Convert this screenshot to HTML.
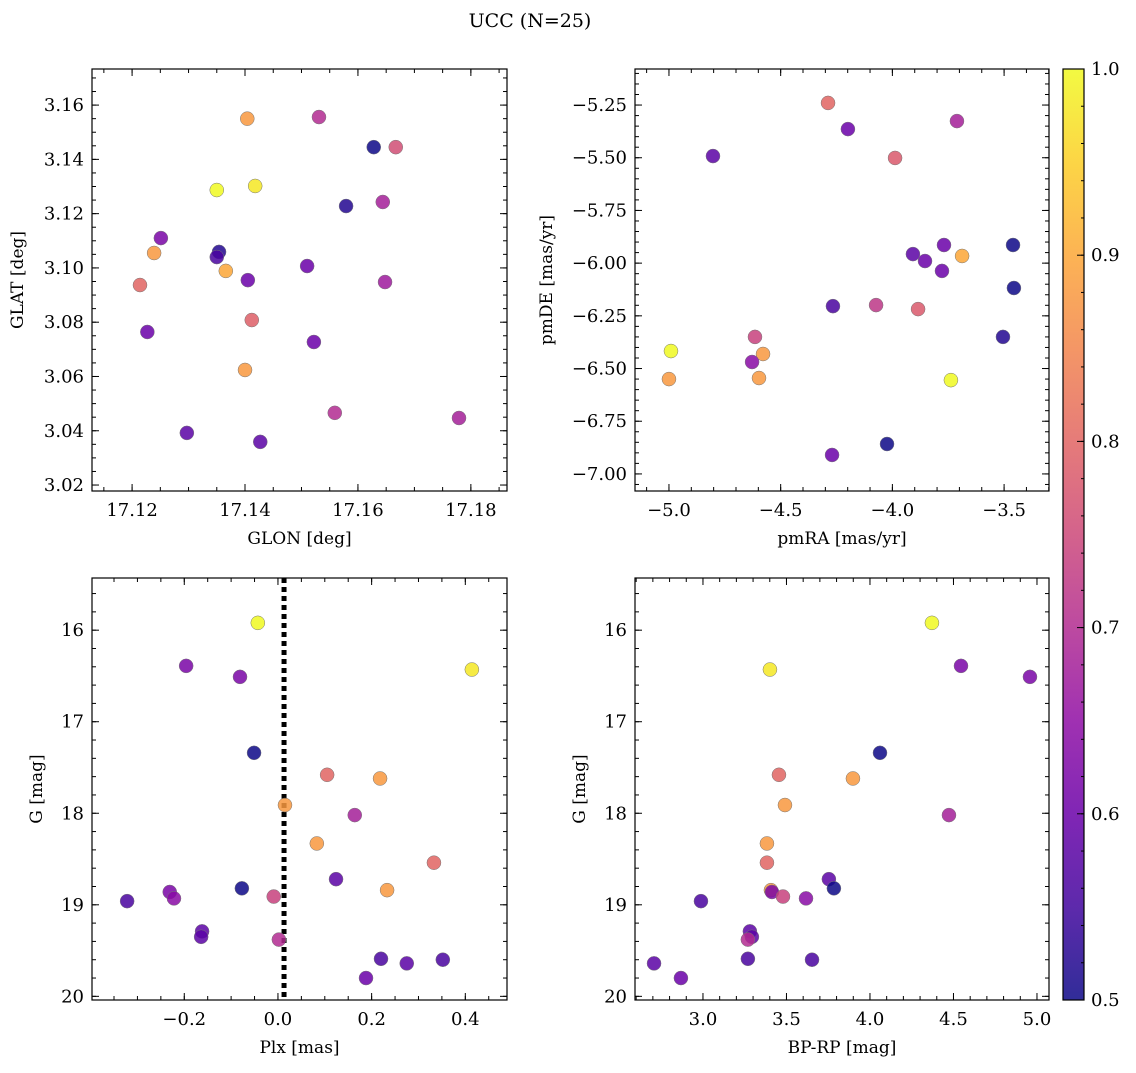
<!DOCTYPE html>
<html><head><meta charset="utf-8"><style>
body{margin:0;background:#fff}
svg text{font-family:"DejaVu Serif","Liberation Serif",serif;fill:#000}
</style></head><body>
<svg id="fig" width="1136" height="1068" xmlns="http://www.w3.org/2000/svg">
<text x="530" y="27" font-size="19" text-anchor="middle">UCC (N=25)</text>
</svg>
<script>
// ---- data ----
const glon = [17.1404,17.1531,17.1628,17.1667,17.1350,17.1418,17.1579,17.1644,17.1251,17.1239,17.1354,17.1350,17.1366,17.1405,17.1510,17.1648,17.1214,17.1412,17.1227,17.1522,17.1400,17.1559,17.1779,17.1297,17.1427];
const glat = [3.155,3.1556,3.1445,3.1445,3.1287,3.1302,3.1228,3.1243,3.111,3.1055,3.1059,3.104,3.0989,3.0955,3.1007,3.0948,3.0937,3.0808,3.0764,3.0727,3.0624,3.0466,3.0447,3.0392,3.0359];
const probPos = [0.88,0.7,0.5,0.76,1.0,0.98,0.52,0.68,0.62,0.88,0.52,0.56,0.9,0.6,0.6,0.67,0.8,0.79,0.6,0.6,0.88,0.7,0.68,0.58,0.58];
const pmra = [-4.288,-4.199,-3.711,-4.803,-3.988,-3.908,-3.769,-3.854,-3.688,-3.46,-3.778,-3.456,-4.266,-4.073,-3.885,-3.505,-4.615,-4.991,-4.579,-4.628,-5.0,-4.597,-3.738,-4.024,-4.27];
const pmde = [-5.24,-5.364,-5.326,-5.492,-5.501,-5.957,-5.914,-5.99,-5.966,-5.914,-6.037,-6.118,-6.204,-6.199,-6.218,-6.35,-6.35,-6.417,-6.431,-6.469,-6.55,-6.545,-6.555,-6.858,-6.91];
const probPm = [0.8,0.6,0.68,0.58,0.78,0.58,0.6,0.6,0.9,0.5,0.6,0.5,0.56,0.72,0.78,0.52,0.74,1.0,0.88,0.64,0.88,0.88,1.0,0.5,0.6];
const plx = [-0.043,0.414,-0.196,-0.081,-0.051,0.105,0.218,0.015,0.164,0.083,0.333,0.124,-0.077,0.233,-0.231,-0.222,-0.009,-0.322,-0.162,-0.164,0.002,0.22,0.352,0.275,0.188];
const gmag = [15.92,16.43,16.39,16.51,17.34,17.58,17.62,17.91,18.02,18.33,18.54,18.72,18.82,18.84,18.86,18.93,18.91,18.96,19.29,19.35,19.38,19.59,19.6,19.64,19.8];
const bprp = [4.371,3.401,4.545,4.958,4.06,3.455,3.898,3.491,4.473,3.383,3.383,3.754,3.784,3.407,3.413,3.617,3.479,2.988,3.281,3.293,3.269,3.269,3.653,2.707,2.868];
const probPhot = [1.0,0.98,0.62,0.62,0.5,0.8,0.88,0.88,0.68,0.88,0.8,0.58,0.5,0.88,0.62,0.64,0.74,0.56,0.58,0.58,0.7,0.56,0.56,0.58,0.6];
const plxLine = [0.013];
const cbTicks = [0.5,0.6,0.7,0.8,0.9,1.0];

const NS="http://www.w3.org/2000/svg";
const fig=document.getElementById('fig');
function el(t,a,p){const e=document.createElementNS(NS,t);for(const k in a)e.setAttribute(k,a[k]);(p||fig).appendChild(e);return e;}
const stops=["#0d0887","#41049d","#6a00a8","#8f0da4","#b12a90","#cc4778","#e16462","#f2844b","#fca636","#fcce25","#f0f921"];
function hex(h){return [1,3,5].map(i=>parseInt(h.substr(i,2),16));}
function plasma(t){t=Math.max(0,Math.min(1,t))*10;const i=Math.min(9,Math.floor(t)),f=t-i;const a=hex(stops[i]),b=hex(stops[i+1]);return `rgb(${a.map((v,k)=>Math.round(v+(b[k]-v)*f)).join(',')})`;}
function cmap(v){return plasma((v-0.5)/0.5);}
function fmt(v,d){let s=v.toFixed(d);return s.replace('-','−');}

function panel(o){
  const {x0,x1,y0,y1,xd,yd}=o;
  const sx=v=>x0+(v-xd[0])/(xd[1]-xd[0])*(x1-x0);
  const sy=v=>y1-(v-yd[0])/(yd[1]-yd[0])*(y1-y0);
  const g=el('g',{});
  
  
  function ticks(axis,lo,hi,step,len,labels,dec){
    const n0=Math.ceil(lo/step-1e-6),n1=Math.floor(hi/step+1e-6);
    for(let n=n0;n<=n1;n++){const v=n*step;
      if(axis==='x'){const x=sx(v);el('line',{x1:x,x2:x,y1:y1,y2:y1-len,stroke:'#000','stroke-width':1},g);el('line',{x1:x,x2:x,y1:y0,y2:y0+len,stroke:'#000','stroke-width':1},g);
        if(labels){const t=el('text',{x:x,y:y1+25,'font-size':18,'text-anchor':'middle'},g);t.textContent=fmt(v,dec);}}
      else{const y=sy(v);el('line',{x1:x0,x2:x0+len,y1:y,y2:y,stroke:'#000','stroke-width':1},g);el('line',{x1:x1,x2:x1-len,y1:y,y2:y,stroke:'#000','stroke-width':1},g);
        if(labels){const t=el('text',{x:x0-8,y:y+6,'font-size':18,'text-anchor':'end'},g);t.textContent=fmt(v,dec);}}
    }
  }
  const xl=Math.min(...xd),xh=Math.max(...xd),yl=Math.min(...yd),yh=Math.max(...yd);
  ticks('x',xl,xh,o.xmaj,7,true,o.xdec);ticks('x',xl,xh,o.xmin,4,false);
  ticks('y',yl,yh,o.ymaj,7,true,o.ydec);ticks('y',yl,yh,o.ymin,4,false);
  if(o.vline!==undefined){const x=sx(o.vline);const l=el('line',{x1:x,x2:x,y1:y0,y2:y1,stroke:'#000','stroke-width':5,'stroke-dasharray':'5,4'},g);}
  for(let i=0;i<o.xs.length;i++){
    const c=el('circle',{cx:sx(o.xs[i]),cy:sy(o.ys[i]),r:7,fill:cmap(o.cs[i]),'fill-opacity':0.85,stroke:'#777','stroke-width':0.5},g);
    
    
  }
  el('rect',{x:x0,y:y0,width:x1-x0,height:y1-y0,fill:'none',stroke:'#000','stroke-width':1.2},g);
  const xt=el('text',{x:(x0+x1)/2,y:y1+53,'font-size':17,'text-anchor':'middle'},g);xt.textContent=o.xlab;
  
  const yx=o.ylx,yy=(y0+y1)/2;
  const yt=el('text',{x:yx,y:yy,'font-size':17,'text-anchor':'middle',transform:`rotate(-90 ${yx} ${yy})`},g);yt.textContent=o.ylab;
  
}
panel({name:'glon-glat-panel',x0:92,x1:507,y0:69,y1:491,xd:[17.1129,17.1864],yd:[3.0178,3.1733],xmaj:0.02,xmin:0.005,ymaj:0.02,ymin:0.005,xdec:2,ydec:2,xs:glon,ys:glat,cs:probPos,xlab:'GLON [deg]',ylab:'GLAT [deg]',ylx:23});
panel({name:'pm-panel',x0:635,x1:1049,y0:69,y1:491,xd:[-5.152,-3.299],yd:[-7.081,-5.079],xmaj:0.5,xmin:0.1,ymaj:0.25,ymin:0.05,xdec:1,ydec:2,xs:pmra,ys:pmde,cs:probPm,xlab:'pmRA [mas/yr]',ylab:'pmDE [mas/yr]',ylx:552});
panel({name:'plx-g-panel',x0:92,x1:507,y0:578,y1:1000,xd:[-0.397,0.489],yd:[20.04,15.43],xmaj:0.2,xmin:0.05,ymaj:1,ymin:0.2,xdec:1,ydec:0,xs:plx,ys:gmag,cs:probPhot,xlab:'Plx [mas]',ylab:'G [mag]',ylx:42,vline:plxLine[0]});
panel({name:'cmd-panel',x0:635,x1:1049,y0:578,y1:1000,xd:[2.593,5.072],yd:[20.04,15.43],xmaj:0.5,xmin:0.1,ymaj:1,ymin:0.2,xdec:1,ydec:0,xs:bprp,ys:gmag,cs:probPhot,xlab:'BP-RP [mag]',ylab:'G [mag]',ylx:585});
// colorbar
const cb=el('g',{});


const defs=el('defs',{},cb);const lg=el('linearGradient',{id:'pl',x1:0,y1:1,x2:0,y2:0},defs);
stops.forEach((s,i)=>el('stop',{offset:i/10,'stop-color':s},lg));
const cx0=1063,cx1=1084,cy0=69,cy1=1000;
el('rect',{x:cx0,y:cy0,width:cx1-cx0,height:cy1-cy0,fill:'url(#pl)','fill-opacity':0.85,stroke:'#000','stroke-width':1.2},cb);
const cy=v=>cy1-(v-0.5)/0.5*(cy1-cy0);
for(let n=25;n<=50;n++){const v=n/50,y=cy(v);el('line',{x1:cx1,x2:cx1-3,y1:y,y2:y,stroke:'#000'},cb);}
cbTicks.forEach(v=>{const y=cy(v);el('line',{x1:cx1,x2:cx1-7,y1:y,y2:y,stroke:'#000'},cb);
  const t=el('text',{x:cx1+7,y:y+6,'font-size':18},cb);t.textContent=v.toFixed(1);
  });
</script>
</body></html>
